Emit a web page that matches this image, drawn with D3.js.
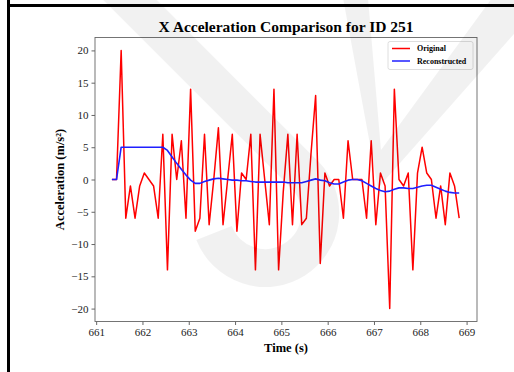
<!DOCTYPE html>
<html>
<head>
<meta charset="utf-8">
<script src="https://cdn.jsdelivr.net/npm/d3@7"></script>
<style>
  body { margin: 0; background: #fff; }
  svg { display: block; }
</style>
</head>
<body>
<svg id="chart" width="514" height="372"></svg>
<script>
// sample times (s), ~10 Hz
const times = [
  661.34, 661.44, 661.54, 661.64, 661.74, 661.84, 661.94, 662.04, 662.14, 662.24,
  662.34, 662.44, 662.54, 662.64, 662.74, 662.84, 662.94, 663.04, 663.14, 663.24,
  663.34, 663.44, 663.54, 663.64, 663.74, 663.84, 663.94, 664.04, 664.14, 664.24,
  664.34, 664.44, 664.54, 664.64, 664.74, 664.84, 664.94, 665.04, 665.14, 665.24,
  665.34, 665.44, 665.54, 665.64, 665.74, 665.84, 665.94, 666.04, 666.14, 666.24,
  666.34, 666.44, 666.54, 666.64, 666.74, 666.84, 666.94, 667.04, 667.14, 667.24,
  667.34, 667.44, 667.54, 667.64, 667.74, 667.84, 667.94, 668.04, 668.14, 668.24,
  668.34, 668.44, 668.54, 668.64, 668.74, 668.84
];

const original = [
  0, 0, 20, -6, -1, -6, -1, 1, 0, -1,
  -6, 7, -14, 7, 0, 6, -6, 14, -8, -6,
  7, -7, 0, 8, -7, 0, 7, -8, 1, 0,
  7, -14, 7, 0, -7, 14, -14, -2, 7, -7,
  7, -7, -6, 4, 13, -13, 1, -1, 0, 0,
  -6, 6, 0, 0, 0, -6, 6, -7, 1, -1,
  -20, 14, 0, -1, 1, -14, 1, 5, 1, 0,
  -6, -1, -7, 1, -1, -6
];

const reconstructed = [
  0, 0, 5, 5, 5, 5, 5, 5, 5, 5,
  5, 5, 4.5, 3.5, 2.5, 1.6, 0.7, -0.1, -0.6, -0.6,
  -0.3, -0.1, 0.1, 0.2, 0.1, 0, -0.1, -0.1, -0.2, -0.2,
  -0.3, -0.4, -0.4, -0.4, -0.4, -0.4, -0.4, -0.4, -0.5, -0.5,
  -0.5, -0.5, -0.3, -0.1, 0.1, -0.1, -0.2, -0.5, -0.7, -0.7,
  -0.4, -0.1, 0, 0, -0.2, -0.6, -1.0, -1.4, -1.7, -1.9,
  -1.8, -1.5, -1.3, -1.3, -1.4, -1.4, -1.2, -1.0, -0.9, -0.9,
  -1.2, -1.5, -1.8, -2.0, -2.1, -2.1
];

const xTicks = [661, 662, 663, 664, 665, 666, 667, 668, 669];
const yTicks = [-20, -15, -10, -5, 0, 5, 10, 15, 20];
const seriesNames = ["Original", "Reconstructed"];
const seriesColors = ["#ff0000", "#1f1fff"];

const serif = "'Liberation Serif', 'Times New Roman', serif";
const svg = d3.select("#chart");
const margin = {top: 37.5, right: 37, bottom: 50.5, left: 95};
const width = 514, height = 372;

const x = d3.scaleLinear()
    .domain([660.975, 669.225])
    .range([margin.left, width - margin.right]);

const y = d3.scaleLinear()
    .domain([-22, 22])
    .range([height - margin.bottom, margin.top]);

// outer frame from the page the chart came from
svg.append("rect").attr("x", 7).attr("y", 0).attr("width", 3).attr("height", height).attr("fill", "#000");
svg.append("rect").attr("x", 7).attr("y", 4).attr("width", width - 7).attr("height", 3).attr("fill", "#000");

// title
svg.append("text")
    .attr("x", (margin.left + width - margin.right) / 2)
    .attr("y", 32)
    .attr("text-anchor", "middle")
    .style("font-family", serif)
    .style("font-weight", "bold")
    .style("font-size", "15.5px")
    .text("X Acceleration Comparison for ID 251");

const plot = svg.append("g");

const line = d3.line()
    .x((d, i) => x(times[i]))
    .y(d => y(d));

plot.append("path")
    .datum(original)
    .attr("fill", "none")
    .attr("stroke", seriesColors[0])
    .attr("stroke-width", 1.5)
    .attr("stroke-linejoin", "round")
    .attr("d", line);

plot.append("path")
    .datum(reconstructed)
    .attr("fill", "none")
    .attr("stroke", seriesColors[1])
    .attr("stroke-width", 1.6)
    .attr("stroke-linejoin", "round")
    .attr("d", line);

// spines
svg.append("rect")
    .attr("x", margin.left)
    .attr("y", margin.top)
    .attr("width", width - margin.right - margin.left)
    .attr("height", height - margin.bottom - margin.top)
    .attr("fill", "none")
    .attr("stroke", "#666")
    .attr("stroke-width", 0.9);

const xAxis = svg.append("g")
    .attr("transform", `translate(0,${height - margin.bottom})`)
    .call(d3.axisBottom(x).tickValues(xTicks).tickFormat(d3.format("d")).tickSize(3.5).tickPadding(3));

const yAxis = svg.append("g")
    .attr("transform", `translate(${margin.left},0)`)
    .call(d3.axisLeft(y).tickValues(yTicks).tickFormat(d => d < 0 ? "\u2212" + Math.abs(d) : d).tickSize(3.5).tickPadding(3));

[xAxis, yAxis].forEach(g => {
  g.select(".domain").remove();
  g.selectAll(".tick line").attr("stroke", "#666");
  g.selectAll(".tick text")
      .attr("fill", "#222")
      .style("font-family", serif)
      .style("font-size", "11px");
});

// axis labels
svg.append("text")
    .attr("x", (margin.left + width - margin.right) / 2)
    .attr("y", 352)
    .attr("text-anchor", "middle")
    .style("font-family", serif)
    .style("font-weight", "bold")
    .style("font-size", "12.5px")
    .text("Time (s)");

svg.append("text")
    .attr("transform", `translate(64,${(margin.top + height - margin.bottom) / 2}) rotate(-90)`)
    .attr("text-anchor", "middle")
    .style("font-family", serif)
    .style("font-weight", "bold")
    .style("font-size", "12.5px")
    .text("Acceleration (m/s\u00b2)");

// legend
const legend = svg.append("g").attr("transform", "translate(388,41.5)");
legend.append("rect")
    .attr("width", 85)
    .attr("height", 28)
    .attr("rx", 2)
    .attr("fill", "#fff")
    .attr("fill-opacity", 0.8)
    .attr("stroke", "#d6d6d6")
    .attr("stroke-width", 0.8);

seriesNames.forEach((name, i) => {
  const row = legend.append("g").attr("transform", `translate(0,${7 + i * 12.5})`);
  row.append("line")
      .attr("x1", 4).attr("x2", 22)
      .attr("stroke", seriesColors[i])
      .attr("stroke-width", 1.5);
  row.append("text")
      .attr("x", 29)
      .attr("dy", "0.33em")
      .style("font-family", serif)
      .style("font-weight", "bold")
      .style("font-size", "8px")
      .text(name);
});

// faint watermark laid over the picture
const wm = svg.append("g").attr("pointer-events", "none");
wm.append("path")
    .attr("d", "M 115,-15 L 305,175 A 55,55 0 1 1 214,233")
    .attr("fill", "none")
    .attr("stroke", "#000")
    .attr("stroke-opacity", 0.055)
    .attr("stroke-width", 38);
wm.append("path")
    .attr("d", "M 343,-2 L 368,-2 L 381,150 L 492,-2 L 522,-2 L 522,25 L 378,188 Z")
    .attr("fill", "#000")
    .attr("fill-opacity", 0.055);
</script>
</body>
</html>
